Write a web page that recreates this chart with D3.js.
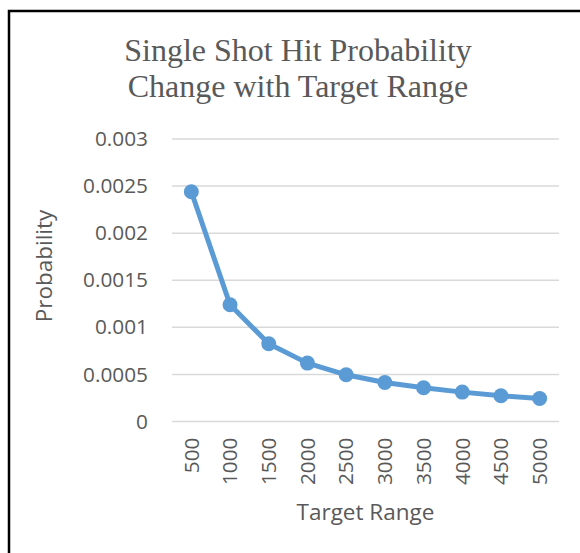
<!DOCTYPE html>
<html>
<head>
<meta charset="utf-8">
<script src="https://cdn.jsdelivr.net/npm/d3@7"></script>
<style>
  body { margin: 0; background: #fff; }
  svg { display: block; }
</style>
</head>
<body>
<svg id="chart"></svg>
<script>
var width = 580,
    height = 553;

// data
var ranges = [500, 1000, 1500, 2000, 2500, 3000, 3500, 4000, 4500, 5000];
var probability = [0.00244, 0.00124, 0.000825, 0.00062, 0.000496, 0.000414, 0.000358, 0.000312, 0.000273, 0.000244];
var yTicks = [0, 0.0005, 0.001, 0.0015, 0.002, 0.0025, 0.003];
var titleLines = ["Single Shot Hit Probability", "Change with Target Range"];

var plot = {left: 172, right: 559, top: 139, bottom: 421.5};
var textColor = "#595959";
var sans = "'Open Sans', sans-serif";

var svg = d3.select("#chart")
    .attr("width", width)
    .attr("height", height);

// outer frame (runs off the right and bottom edges)
svg.append("rect")
    .attr("x", 9)
    .attr("y", 11)
    .attr("width", 620)
    .attr("height", 620)
    .style("fill", "none")
    .style("stroke", "#000")
    .style("stroke-width", 2.5);

var x = d3.scaleBand()
    .domain(ranges)
    .range([plot.left, plot.right]);

var y = d3.scaleLinear()
    .domain([0, 0.003])
    .range([plot.bottom, plot.top]);

// gridlines
svg.append("g")
    .selectAll("line")
    .data(yTicks)
    .enter().append("line")
    .attr("x1", plot.left)
    .attr("x2", plot.right)
    .attr("y1", function (d) { return y(d); })
    .attr("y2", function (d) { return y(d); })
    .style("stroke", "#d9d9d9")
    .style("stroke-width", 1.5);

// y axis labels
var yAxis = svg.append("g")
    .attr("transform", "translate(" + (plot.left - 24) + ",0)")
    .call(d3.axisLeft(y).tickValues(yTicks).tickSize(0).tickPadding(0)
        .tickFormat(function (d) { return d === 0 ? "0" : String(+d.toFixed(4)); }));
yAxis.select(".domain").remove();
yAxis.selectAll("text")
    .style("font-family", sans)
    .style("font-size", "20.8px")
    .style("fill", textColor);

// x axis labels, rotated
var xAxis = svg.append("g")
    .attr("transform", "translate(0," + (plot.bottom + 16) + ")")
    .call(d3.axisBottom(x).tickSize(0).tickPadding(0));
xAxis.select(".domain").remove();
xAxis.selectAll("text")
    .attr("transform", "rotate(-90)")
    .attr("x", 0)
    .attr("y", 0)
    .attr("dy", "0.35em")
    .style("text-anchor", "end")
    .style("font-family", sans)
    .style("font-size", "20.8px")
    .style("fill", textColor);

// axis titles
svg.append("text")
    .attr("x", (plot.left + plot.right) / 2)
    .attr("y", 520)
    .attr("text-anchor", "middle")
    .style("font-family", sans)
    .style("font-size", "22.5px")
    .style("fill", textColor)
    .text("Target Range");

svg.append("text")
    .attr("transform", "translate(52,266) rotate(-90)")
    .attr("text-anchor", "middle")
    .style("font-family", sans)
    .style("font-size", "22.5px")
    .style("fill", textColor)
    .text("Probability");

// chart title
svg.append("g")
    .selectAll("text")
    .data(titleLines)
    .enter().append("text")
    .attr("x", 298)
    .attr("y", function (d, i) { return 61 + i * 36; })
    .attr("text-anchor", "middle")
    .style("font-family", "'Liberation Serif', 'Times New Roman', serif")
    .style("font-size", "32px")
    .style("fill", textColor)
    .text(function (d) { return d; });

// series
var cx = function (d, i) { return x(ranges[i]) + x.bandwidth() / 2; };

var line = d3.line()
    .x(cx)
    .y(function (d) { return y(d); });

svg.append("path")
    .datum(probability)
    .attr("d", line)
    .style("fill", "none")
    .style("stroke", "#5b9bd5")
    .style("stroke-width", 5)
    .style("stroke-linejoin", "round");

svg.append("g")
    .selectAll("circle")
    .data(probability)
    .enter().append("circle")
    .attr("cx", cx)
    .attr("cy", function (d) { return y(d); })
    .attr("r", 7.5)
    .style("fill", "#5b9bd5");
</script>
</body>
</html>
